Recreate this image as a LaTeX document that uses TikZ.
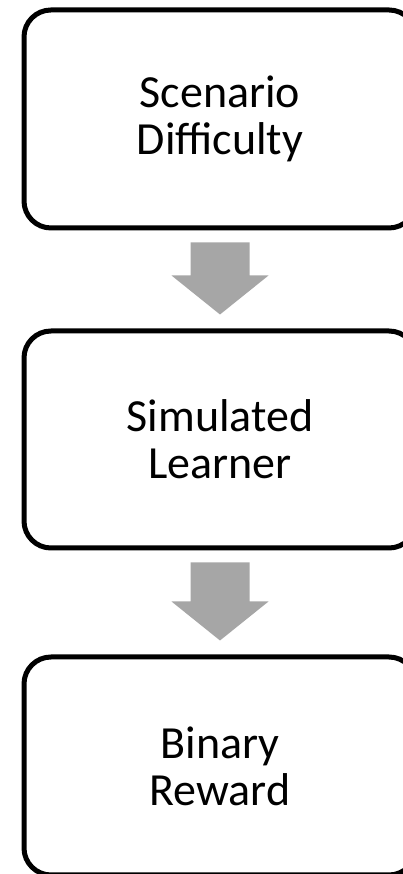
\documentclass[tikz,border=0pt]{standalone}
\usepackage{fontspec}
\setmainfont{Carlito}
\usetikzlibrary{calc}
\definecolor{arrowgray}{HTML}{A6A6A6}
\tikzset{
  stagebox/.style={draw=black, line width=5pt, rounded corners=27pt, fill=white,
    minimum width=392pt, minimum height=218pt, align=center, inner sep=0pt,
    font=\fontsize{46}{47}\selectfont},
}
% block arrow from the bottom of one box to the top of the next
\newcommand{\stagearrow}[2]{%
  \path let \p1=($(#1.south)+(0,-12)$), \p2=($(#2.north)+(0,14)$) in
    [fill=arrowgray]
    (\x1-29.5pt,\y1) -- (\x1+29.5pt,\y1) -- (\x1+29.5pt,\y2+39pt)
    -- (\x1+48.5pt,\y2+39pt) -- (\x2,\y2) -- (\x1-48.5pt,\y2+39pt)
    -- (\x1-29.5pt,\y2+39pt) -- cycle;}
\begin{document}
\begin{tikzpicture}[x=1pt,y=1pt]
  \useasboundingbox (0,0) rectangle (403,874);
  \clip (0,0) rectangle (403,874);
  \fill[white] (0,0) rectangle (403,874);
  \node[stagebox] (difficulty) at (220,755) {Scenario\\Difficulty};
  \node[stagebox, minimum height=217pt] (learner) at (220,434.5) {Simulated\\Learner};
  \node[stagebox] (reward) at (220,108) {Binary\\Reward};
  \stagearrow{difficulty}{learner}
  \stagearrow{learner}{reward}
\end{tikzpicture}
\end{document}
